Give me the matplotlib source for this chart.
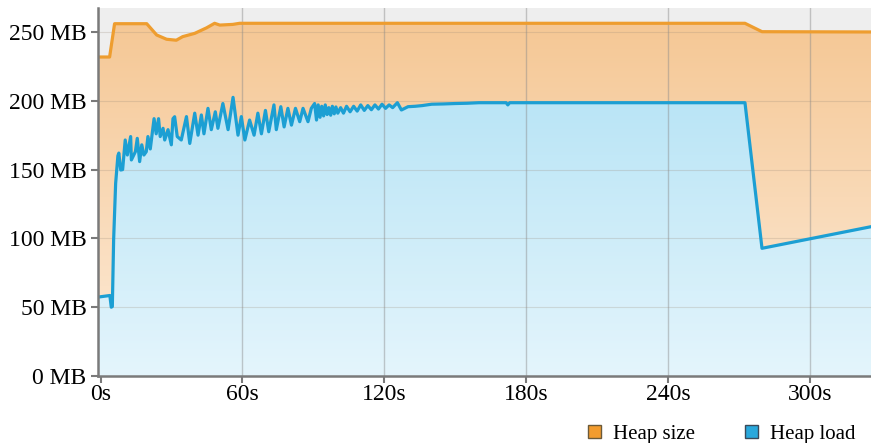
import numpy as np
import matplotlib
matplotlib.use("Agg")
import matplotlib.pyplot as plt
from matplotlib.patches import PathPatch, Patch
from matplotlib.colors import LinearSegmentedColormap

# heap size (MB) over time (s)
size_t = [-1.3, 3.8, 5.9, 19.5, 23.7, 27.9, 32.0, 34.7, 39.8, 44.8, 48.2, 50.4,
          55.9, 58.8, 272.5, 279.7, 325.8]
size_mb = [231.8, 231.8, 256.0, 256.0, 247.8, 244.7, 244.0, 246.6, 249.0, 253.0,
           256.3, 255.0, 255.5, 256.3, 256.3, 250.2, 250.0]

# heap load (MB) over time (s)
load_t = [-1.3, 3.9, 4.5, 4.95, 5.5, 6.35, 7.3, 7.7, 8.5, 9.3, 10.4, 11.3, 12.7, 13.0,
          14.7, 15.5, 16.5, 17.4, 18.3, 19.3, 20.0, 21.0, 22.6, 23.5, 24.5, 25.2, 26.4,
          27.1, 28.5, 29.9, 30.6, 31.3, 32.4, 34.1, 36.3, 37.7, 39.8, 41.2, 42.6, 43.7,
          45.4, 46.8, 48.5, 49.6, 51.7, 53.9, 56.0, 58.1, 59.5, 61.0, 63.0, 64.9, 66.5,
          68.0, 69.7, 71.1, 73.3, 74.3, 76.2, 77.6, 79.2, 80.7, 82.4, 84.2, 85.6, 87.7,
          89.1, 90.5, 91.3, 92.0, 92.8, 93.5, 94.3, 95.0, 95.8, 96.5, 97.3, 98.0, 98.8,
          99.5, 100.3, 101.5, 102.7, 104.0, 105.5, 107.0, 108.5, 110.0, 111.5, 113.0,
          114.5, 116.0, 117.5, 119.0, 120.5, 122.0, 123.5, 125.5, 127.2, 130.0, 133.0,
          136.0, 140.0, 145.0, 150.0, 155.0, 160.0, 171.5, 172.2, 173.0, 272.5, 279.7,
          325.8]
load_mb = [57.3, 58.5, 50.0, 50.5, 99.0, 140.0, 160.0, 162.0, 149.7, 150.0, 171.5, 160.6,
           174.0, 157.0, 163.0, 172.7, 155.8, 168.0, 160.6, 163.0, 174.0, 165.0, 187.0,
           176.0, 187.0, 174.0, 180.0, 171.5, 179.0, 168.0, 187.0, 188.4, 174.0, 171.5,
           188.5, 169.0, 191.0, 175.0, 189.7, 176.0, 194.5, 179.0, 192.0, 180.0, 198.0,
           179.0, 202.5, 175.0, 188.5, 171.5, 186.0, 175.0, 191.0, 176.0, 193.0, 177.5,
           197.0, 179.0, 195.7, 181.0, 194.5, 182.3, 194.5, 184.8, 194.5, 184.8, 194.5,
           198.0, 186.0, 197.0, 188.0, 196.0, 189.0, 197.0, 190.0, 195.0, 189.5, 196.0,
           190.5, 195.5, 191.0, 195.0, 191.0, 196.0, 192.0, 196.0, 192.5, 197.0, 193.0,
           196.5, 193.5, 197.0, 194.0, 197.5, 194.5, 197.0, 195.0, 198.6, 193.3, 195.7,
           196.0, 196.5, 197.5, 197.7, 198.0, 198.2, 198.6, 198.6, 197.0, 198.6, 198.6,
           92.8, 108.5]

x_ticks = [0, 60, 120, 180, 240, 300]
x_labels = ["0s", "60s", "120s", "180s", "240s", "300s"]
y_ticks = [0, 50, 100, 150, 200, 250]
y_labels = ["0 MB", "50 MB", "100 MB", "150 MB", "200 MB", "250 MB"]

plt.rcParams['font.family'] = ['Liberation Serif', 'DejaVu Serif']

fig = plt.figure(figsize=(8.71, 4.43), dpi=100)
ax = fig.add_axes([0.112, 0.1512, 0.888, 0.8307])
xmin, xmax = -1.3, 325.8
ymin, ymax = 0, 267.4
ax.set_facecolor('#eeeeee')


def gradient_fill(x, y, c_top, c_bot, z):
    poly = ax.fill_between(x, 0, y, facecolor='none', edgecolor='none')
    patch = PathPatch(poly.get_paths()[0], transform=ax.transData,
                      facecolor='none', edgecolor='none')
    ax.add_patch(patch)
    grad = np.linspace(0, 1, 256).reshape(-1, 1)
    cmap = LinearSegmentedColormap.from_list('g', [c_bot, c_top])
    im = ax.imshow(grad, cmap=cmap, aspect='auto', origin='lower',
                   extent=[xmin, xmax, 0, 260], zorder=z)
    im.set_clip_path(patch)


gradient_fill(size_t, size_mb, '#f5c794', '#fdebd8', 1)
gradient_fill(load_t, load_mb, '#ade0f4', '#e4f5fc', 2)

ax.plot(size_t, size_mb, color='#ee9d2f', lw=2.3, zorder=4, solid_joinstyle='round')
ax.plot(load_t, load_mb, color='#1c9fd3', lw=2.3, zorder=5, solid_joinstyle='round')

ax.set_xlim(xmin, xmax)
ax.set_ylim(ymin, ymax)

for v in x_ticks[1:]:
    ax.axvline(v, color='#8a8a8a', lw=1, alpha=0.45, zorder=3)
for v in y_ticks[1:]:
    ax.axhline(v, color='#9a8a7a', lw=0.8, alpha=0.25, zorder=3)

ax.set_xticks(x_ticks)
ax.set_xticklabels(x_labels)
ax.set_yticks(y_ticks)
ax.set_yticklabels(y_labels)
ax.tick_params(axis='both', labelsize=17, colors='#7a7a7a', labelcolor='black',
               length=5, width=1.5)
ax.tick_params(axis='x', pad=1)
ax.tick_params(axis='y', pad=3)

for s in ['top', 'right']:
    ax.spines[s].set_visible(False)
for s in ['left', 'bottom']:
    ax.spines[s].set_color('#7a7a7a')
    ax.spines[s].set_linewidth(1.8)
    ax.spines[s].set_zorder(6)

handles = [Patch(facecolor='#f39c2e', edgecolor='#6b5a3a', lw=1),
           Patch(facecolor='#29a8dc', edgecolor='#3a4a5a', lw=1)]
fig.legend(handles, ['Heap size', 'Heap load'], loc='center', ncol=2,
           bbox_to_anchor=(0.829, 0.02), frameon=False, fontsize=15,
           handlelength=0.6, handleheight=0.6, handletextpad=0.6,
           columnspacing=2.4, borderpad=0)

fig.savefig('out.png', dpi=100)
